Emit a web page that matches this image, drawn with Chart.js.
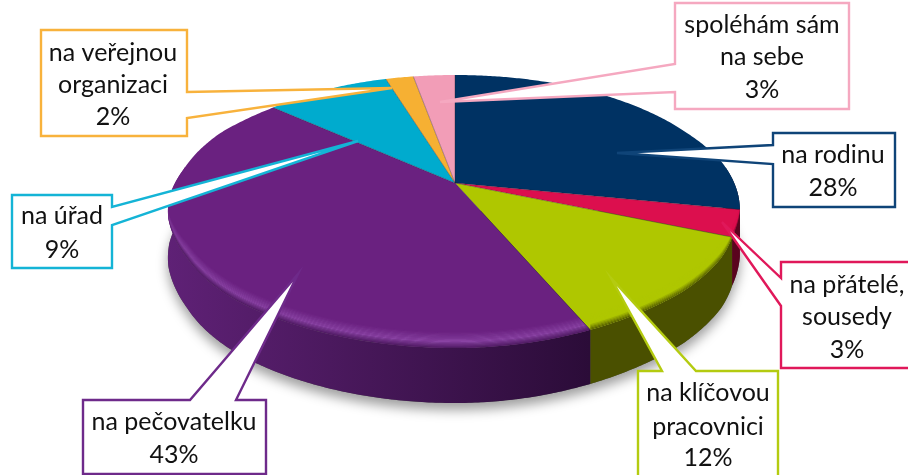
<!DOCTYPE html>
<html lang="cs">
<head>
<meta charset="utf-8">
<title>Pie</title>
<script src="https://cdn.jsdelivr.net/npm/chart.js@4/dist/chart.umd.js"></script>
<style>
html,body{margin:0;padding:0;background:#fff;overflow:hidden}
canvas{display:block}
</style>
</head>
<body>
<canvas id="c" width="908" height="475"></canvas>
<script>
// ---- data ----
const labelLines = [
  ["na rodinu"],
  ["na přátelé,", "sousedy"],
  ["na klíčovou", "pracovnici"],
  ["na pečovatelku"],
  ["na úřad"],
  ["na veřejnou", "organizaci"],
  ["spoléhám sám", "na sebe"]
];
const categories = labelLines.map(l => l.join(" "));
const values = [28, 3, 12, 43, 9, 2, 3];

// ---- styles ----
const faceColors = ["#003263", "#DC0F4E", "#AFC700", "#6A2180", "#00ABCE", "#F6B033", "#F29DB7"];
const borderColors = ["#0F4478", "#E0185A", "#B4CB10", "#6E2A8A", "#14B4D6", "#F8B23C", "#F5A8C0"];
const wallLeft  = ["#001a38", "#7a0628", "#4c5300", "#5f2176", "#00607a", "#8a6010", "#885060"];
const wallRight = ["#000f24", "#5a041e", "#4a5000", "#2b0c38", "#00607a", "#8a6010", "#885060"];
const highlight = ["#003263", "#DC0F4E", "#AFC700", "#8A44A4", "#00ABCE", "#F6B033", "#F29DB7"];

// ---- view of the disc: horizontal reach by depth, for each half ----
const view = { cx: 455, cy: 183 };
const reachV = [-1, -0.9, -0.74, -0.4, -0.16, 0.187, 0.368, 0.5, 0.7, 1];
const reachR = [222, 227, 233, 253, 270, 290, 298, 307, 317, 318];
const reachLV = [-1, -0.637, -0.4, -0.1, 0.1, 0.25, 0.39, 0.5, 0.75, 1];
const reachL = [222, 236, 256, 273, 287, 296, 303, 309, 328, 340];
const lerpTable = (xs, ys, x) => {
  for (let i = 1; i < xs.length; i++) {
    if (x <= xs[i]) return ys[i - 1] + (ys[i] - ys[i - 1]) * (x - xs[i - 1]) / (xs[i] - xs[i - 1]);
  }
  return ys[ys.length - 1];
};
const sy = v => 136.5 + 28.5 * v;
const depth = v => 45 + 10 * v;
const pt = (a, off = 0) => {
  const u = Math.cos(a), v = Math.sin(a);
  const s = u >= 0 ? lerpTable(reachV, reachR, v) : lerpTable(reachLV, reachL, v);
  return [view.cx + u * s, view.cy + v * sy(v) + off];
};
const edge = (a0, a1, offFn) => {
  const n = Math.max(2, Math.ceil(Math.abs(a1 - a0) / 0.01));
  const out = [];
  for (let i = 0; i <= n; i++) {
    const a = a0 + (a1 - a0) * i / n;
    out.push(pt(a, offFn ? offFn(a) : 0));
  }
  return out;
};
const poly = (ctx, pts, start) => {
  pts.forEach((p, i) => (i === 0 && start ? ctx.moveTo(p[0], p[1]) : ctx.lineTo(p[0], p[1])));
};
const hexRgb = c => [1, 3, 5].map(i => parseInt(c.slice(i, i + 2), 16));
const mix = (c1, c2, t) => {
  const a = hexRgb(c1), b = hexRgb(c2);
  return "#" + a.map((x, i) => Math.round(x + (b[i] - x) * t).toString(16).padStart(2, "0")).join("");
};

// ---- callouts: box, pointer base on one side, pointer tip ----
const callouts = [
  { box: [773, 133, 895, 207], side: "L", base: [145, 164], tip: [617, 153], cx: 833, ys: [155, 188] },
  { box: [781, 262, 914, 368], side: "L", base: [278, 306], tip: [722, 222], cx: 847, ys: [285, 317, 350] },
  { box: [638, 371, 778, 490], side: "T", base: [662, 696], tip: [611, 278], cx: 708, ys: [393, 427, 458] },
  { box: [83, 400, 266, 474], side: "T", base: [190, 236], tip: [298, 274], cx: 174, ys: [422, 455] },
  { box: [12, 195, 112, 268], side: "R", base: [207, 225], tip: [358, 141], cx: 62, ys: [216, 250] },
  { box: [41, 30, 187, 136], side: "R", base: [92, 118], tip: [392, 88], cx: 113, ys: [53, 85, 117] },
  { box: [675, 3, 849, 109], side: "L", base: [64, 92], tip: [440, 102], cx: 762, ys: [25, 57, 90] }
];

const disc3d = {
  id: "disc3d",
  beforeDatasetsDraw(chart) {
    const ctx = chart.ctx;
    const arcs = chart.getDatasetMeta(0).data;
    const A = -0.12, B = Math.PI + 0.12;

    // soft shadow under the disc
    ctx.save();
    ctx.shadowColor = "rgba(0,0,0,0.38)";
    ctx.shadowBlur = 12;
    ctx.shadowOffsetY = 7;
    ctx.fillStyle = "#555";
    ctx.beginPath();
    poly(ctx, edge(A, B, a => depth(Math.sin(a))), true);
    ctx.closePath();
    ctx.fill();
    ctx.restore();

    // outer walls
    arcs.forEach((arc, i) => {
      const a0 = Math.max(arc.startAngle, A), a1 = Math.min(arc.endAngle, B);
      const a0b = arc.startAngle + 2 * Math.PI, a1b = arc.endAngle + 2 * Math.PI;
      [[a0, a1], [Math.max(a0b, A), Math.min(a1b, B)]].forEach(([s, e]) => {
        if (e <= s) return;
        const top = edge(s, e);
        const bot = edge(e, s, a => depth(Math.sin(a)));
        const g = ctx.createLinearGradient(166, 0, 590, 0);
        g.addColorStop(0, wallLeft[i]);
        g.addColorStop(1, wallRight[i]);
        ctx.fillStyle = g;
        ctx.beginPath();
        poly(ctx, top, true);
        poly(ctx, bot, false);
        ctx.closePath();
        ctx.fill();
      });
    });

    // top faces with the bevel along the front rim
    arcs.forEach((arc, i) => {
      const pts = edge(arc.startAngle, arc.endAngle);
      const path = () => {
        ctx.beginPath();
        ctx.moveTo(view.cx, view.cy);
        poly(ctx, pts, false);
        ctx.closePath();
      };
      ctx.fillStyle = arc.options.backgroundColor;
      path();
      ctx.fill();

      ctx.save();
      path();
      ctx.clip();
      const s = Math.max(arc.startAngle, 0), e = Math.min(arc.endAngle, Math.PI);
      if (e > s) {
        const N = 14, T = 16;
        for (let k = 0; k < N; k++) {
          const t0 = k / N, t1 = (k + 1) / N;
          const tm = (t0 + t1) / 2;
          let col;
          if (tm < 0.6) col = mix(faceColors[i], highlight[i], tm / 0.6);
          else col = mix(highlight[i], mix(wallLeft[i], wallRight[i], i === 3 ? 0.4 : 0.5), (tm - 0.6) / 0.4);
          ctx.fillStyle = col;
          ctx.beginPath();
          poly(ctx, edge(s, e, a => -T * (1 - t0) * Math.min(1, Math.sin(a) * 2)), true);
          poly(ctx, edge(e, s, a => -T * (1 - t1) * Math.min(1, Math.sin(a) * 2)), false);
          ctx.closePath();
          ctx.fill();
        }
      }
      ctx.restore();
    });

    // fine dark seams between slices
    ctx.strokeStyle = "rgba(30,25,40,0.35)";
    ctx.lineWidth = 1;
    arcs.forEach(arc => {
      const p = pt(arc.startAngle);
      ctx.beginPath();
      ctx.moveTo(view.cx, view.cy);
      ctx.lineTo(p[0], p[1]);
      ctx.stroke();
    });
    return false;
  },
  afterDraw(chart) {
    const ctx = chart.ctx;
    callouts.forEach((c, i) => {
      const [x0, y0, x1, y1] = c.box;
      ctx.beginPath();
      ctx.moveTo(x0, y0);
      if (c.side === "T") { ctx.lineTo(c.base[0], y0); ctx.lineTo(c.tip[0], c.tip[1]); ctx.lineTo(c.base[1], y0); }
      ctx.lineTo(x1, y0);
      if (c.side === "R") { ctx.lineTo(x1, c.base[0]); ctx.lineTo(c.tip[0], c.tip[1]); ctx.lineTo(x1, c.base[1]); }
      ctx.lineTo(x1, y1);
      ctx.lineTo(x0, y1);
      if (c.side === "L") { ctx.lineTo(x0, c.base[1]); ctx.lineTo(c.tip[0], c.tip[1]); ctx.lineTo(x0, c.base[0]); }
      ctx.closePath();
      ctx.fillStyle = "#fff";
      ctx.fill();
      ctx.strokeStyle = borderColors[i];
      ctx.lineWidth = 2.4;
      ctx.lineJoin = "miter";
      ctx.stroke();

      ctx.fillStyle = "#111";
      ctx.font = '25px Lato, sans-serif';
      ctx.textAlign = "center";
      ctx.textBaseline = "middle";
      const lines = labelLines[i].concat([values[i] + "%"]);
      lines.forEach((t, k) => ctx.fillText(t, c.cx, c.ys[k]));
    });
  }
};

new Chart(document.getElementById("c"), {
  type: "pie",
  data: {
    labels: categories,
    datasets: [{ data: values, backgroundColor: faceColors, borderWidth: 0 }]
  },
  options: {
    responsive: false,
    animation: false,
    plugins: { legend: { display: false }, tooltip: { enabled: false } }
  },
  plugins: [disc3d]
});
</script>
</body>
</html>
